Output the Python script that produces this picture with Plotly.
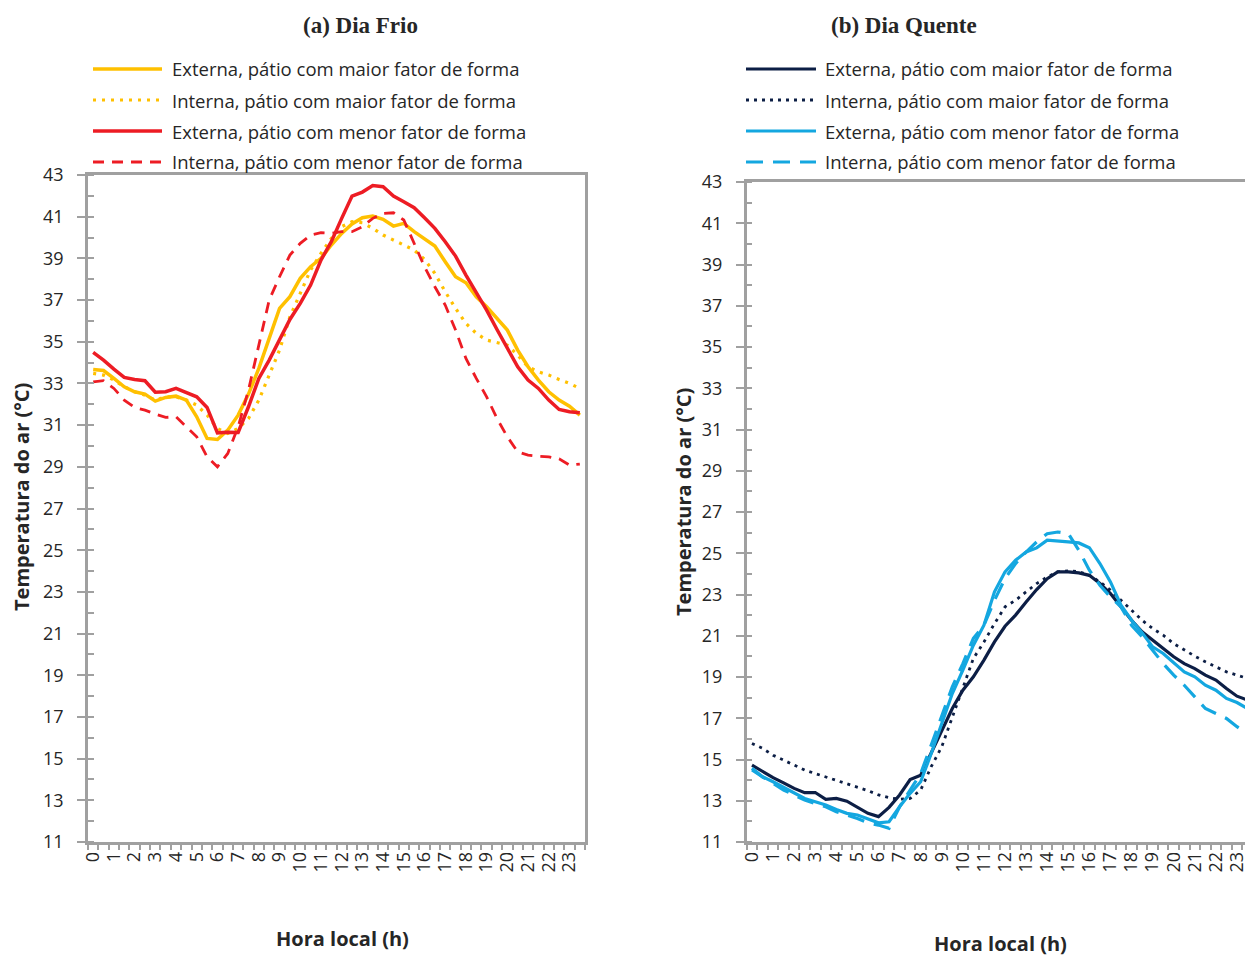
import plotly.graph_objects as go

# ---------------- data ----------------
hours = [h * 0.5 for h in range(48)]
hour_labels = [str(h) for h in range(24)]
y_ticks = list(range(11, 44, 2))

series_names = [
    "Externa, pátio com maior fator de forma",
    "Interna, pátio com maior fator de forma",
    "Externa, pátio com menor fator de forma",
    "Interna, pátio com menor fator de forma",
]

# (a) Dia Frio
frio_ext_maior = [33.67, 33.62, 33.24, 32.84, 32.60, 32.49, 32.15, 32.33, 32.39, 32.20,
                  31.40, 30.36, 30.31, 30.76, 31.48, 32.49, 33.72, 35.16, 36.60, 37.16,
                  38.04, 38.60, 39.00, 39.64, 40.20, 40.65, 40.95, 41.03, 40.87, 40.55,
                  40.68, 40.28, 39.96, 39.59, 38.84, 38.12, 37.83, 37.16, 36.68, 36.12,
                  35.56, 34.60, 33.80, 33.16, 32.60, 32.20, 31.91, 31.48]
frio_int_maior = [33.48, 33.40, 33.16, 32.84, 32.60, 32.44, 32.20, 32.36, 32.36, 32.20,
                  31.96, 31.48, 30.84, 30.60, 30.84, 31.32, 32.20, 33.40, 34.60, 36.20,
                  37.32, 38.44, 39.24, 39.96, 40.52, 40.76, 40.71, 40.44, 40.12, 39.88,
                  39.64, 39.40, 38.95, 38.28, 37.40, 36.60, 35.88, 35.40, 35.08, 34.95,
                  34.84, 34.36, 33.80, 33.56, 33.40, 33.19, 33.00, 32.76]
frio_ext_menor = [34.49, 34.12, 33.69, 33.29, 33.19, 33.13, 32.58, 32.60, 32.76, 32.58,
                  32.36, 31.85, 30.63, 30.66, 30.65, 31.88, 33.24, 34.12, 35.08, 36.07,
                  36.84, 37.72, 38.92, 39.80, 40.92, 41.99, 42.18, 42.49, 42.44, 41.99,
                  41.72, 41.43, 40.95, 40.44, 39.80, 39.11, 38.20, 37.40, 36.52, 35.59,
                  34.68, 33.80, 33.16, 32.76, 32.20, 31.75, 31.64, 31.59]
frio_int_menor = [33.08, 33.13, 32.76, 32.20, 31.85, 31.72, 31.53, 31.37, 31.40, 30.92,
                  30.44, 29.48, 29.00, 29.64, 30.92, 32.68, 34.92, 37.00, 38.12, 39.16,
                  39.72, 40.12, 40.23, 40.20, 40.28, 40.28, 40.52, 40.92, 41.16, 41.19,
                  40.84, 39.72, 38.60, 37.64, 36.76, 35.56, 34.20, 33.24, 32.36, 31.32,
                  30.44, 29.72, 29.56, 29.51, 29.48, 29.38, 29.08, 29.13]

# (b) Dia Quente
quente_ext_maior = [14.73, 14.41, 14.12, 13.87, 13.60, 13.39, 13.40, 13.07, 13.11, 12.98,
                    12.68, 12.39, 12.23, 12.68, 13.28, 14.03, 14.24, 15.29, 16.42, 17.47,
                    18.36, 19.01, 19.82, 20.70, 21.46, 22.00, 22.64, 23.24, 23.77, 24.10,
                    24.10, 24.05, 23.93, 23.53, 23.05, 22.37, 21.75, 21.19, 20.78, 20.38,
                    19.98, 19.65, 19.41, 19.09, 18.85, 18.44, 18.07, 17.88]
quente_int_maior = [15.78, 15.54, 15.21, 14.97, 14.73, 14.49, 14.32, 14.16, 14.00, 13.84,
                    13.65, 13.49, 13.28, 13.15, 13.07, 13.11, 13.52, 14.65, 15.62, 17.07,
                    18.52, 19.90, 20.70, 21.59, 22.40, 22.72, 23.13, 23.53, 23.85, 24.10,
                    24.14, 24.11, 23.93, 23.61, 23.21, 22.72, 22.24, 21.75, 21.35, 21.03,
                    20.62, 20.30, 20.01, 19.74, 19.49, 19.25, 19.09, 18.93]
quente_ext_menor = [14.49, 14.16, 13.92, 13.65, 13.36, 13.11, 12.95, 12.79, 12.58, 12.39,
                    12.31, 12.10, 11.93, 11.98, 12.71, 13.36, 13.92, 15.29, 16.75, 18.20,
                    19.33, 20.54, 21.51, 23.13, 24.10, 24.66, 25.06, 25.26, 25.63, 25.60,
                    25.55, 25.50, 25.27, 24.50, 23.61, 22.48, 21.75, 21.14, 20.46, 20.14,
                    19.69, 19.25, 19.01, 18.60, 18.36, 17.96, 17.76, 17.47]
quente_int_menor = [14.57, 14.16, 13.84, 13.52, 13.28, 13.03, 12.87, 12.71, 12.47, 12.31,
                    12.14, 11.93, 11.82, 11.66, 12.71, 13.52, 14.32, 15.70, 17.07, 18.52,
                    19.65, 20.87, 21.51, 22.72, 23.77, 24.50, 25.06, 25.55, 25.95, 26.03,
                    25.95, 25.15, 24.18, 23.45, 22.88, 22.40, 21.51, 20.95, 20.30, 19.65,
                    19.09, 18.60, 18.04, 17.47, 17.23, 16.99, 16.59, 16.26]

# ---------------- styles ----------------
ORANGE = "#FFC000"
RED = "#ED1C24"
NAVY = "#0C1E45"
CYAN = "#14A7E0"
AXIS = "#A0A0A0"
TXT = "#262626"
SANS = "Open Sans"
SERIF = "Liberation Serif"

W, H = 1245, 958


def px(x):
    return x / W


def py(y):
    return 1 - y / H


styles_a = [
    dict(color=ORANGE, width=3.5, dash="solid"),
    dict(color=ORANGE, width=3.2, dash="3px,6px"),
    dict(color=RED, width=3.5, dash="solid"),
    dict(color=RED, width=2.8, dash="11px,8px"),
]
styles_b = [
    dict(color=NAVY, width=3.2, dash="solid"),
    dict(color=NAVY, width=2.8, dash="3px,5px"),
    dict(color=CYAN, width=3.2, dash="solid"),
    dict(color=CYAN, width=3.2, dash="17px,10px"),
]
data_a = [frio_ext_maior, frio_int_maior, frio_ext_menor, frio_int_menor]
data_b = [quente_ext_maior, quente_int_maior, quente_ext_menor, quente_int_menor]

fig = go.Figure()
for name, ys, st in zip(series_names, data_a, styles_a):
    fig.add_trace(go.Scatter(x=hours, y=ys, name=name, mode="lines", line=st,
                             xaxis="x", yaxis="y", showlegend=False))
for name, ys, st in zip(series_names, data_b, styles_b):
    fig.add_trace(go.Scatter(x=hours, y=ys, name=name, mode="lines", line=st,
                             xaxis="x2", yaxis="y2", showlegend=False))

xcommon = dict(
    tickmode="array", tickvals=list(range(24)), ticktext=hour_labels,
    tickangle=-90, ticks="", showgrid=False, zeroline=False, automargin=False,
    showline=True, linecolor=AXIS, linewidth=2.5, ticklabeloverflow="allow",
    tickfont=dict(family=SANS, size=18, color=TXT),
    minor=dict(ticks="outside", tick0=-0.25, dtick=0.5, ticklen=5,
               tickcolor=AXIS, tickwidth=1.5, showgrid=False),
    fixedrange=True,
)
ycommon = dict(
    range=[11, 43], tickmode="array", tickvals=y_ticks,
    ticktext=[str(v) for v in y_ticks], automargin=False,
    ticks="outside", ticklen=8, tickcolor=AXIS, tickwidth=2,
    showgrid=False, zeroline=False, showline=True, linecolor=AXIS, linewidth=2.5,
    tickfont=dict(family=SANS, size=18, color=TXT), ticklabelstandoff=10,
    minor=dict(ticks="inside", dtick=1, tick0=11, ticklen=6,
               tickcolor=AXIS, tickwidth=1.5, showgrid=False),
    fixedrange=True,
)

fig.update_layout(
    template="none",
    width=W, height=H, margin=dict(l=0, r=0, t=0, b=0, pad=0, autoexpand=False),
    paper_bgcolor="white", plot_bgcolor="white", showlegend=False,
    xaxis=dict(xcommon, domain=[px(88), px(585)], range=[-0.25, 23.75],
               anchor="y", mirror=True),
    yaxis=dict(ycommon, domain=[py(842), py(175)], anchor="x", mirror=True),
    xaxis2=dict(xcommon, domain=[px(746.7), 1.0], range=[-0.25, 23.38],
                anchor="y2", mirror=True),
    yaxis2=dict(ycommon, domain=[py(842), py(182)], anchor="x2", mirror=False),
)

annotations = []
shapes = []

# panel titles
for text, x in [("(a) Dia Frio", 361), ("(b) Dia Quente", 904)]:
    annotations.append(dict(text=f"<b>{text}</b>", x=px(x), y=py(25), xref="paper", yref="paper",
                            showarrow=False, xanchor="center", yanchor="middle",
                            font=dict(family=SERIF, size=23, color=TXT)))
# axis titles
for x, y in [(343, 938), (1000, 943)]:
    annotations.append(dict(text="<b>Hora local (h)</b>", x=px(x), y=py(y), xref="paper", yref="paper",
                            showarrow=False, xanchor="center", yanchor="middle",
                            font=dict(family=SANS, size=20, color=TXT)))
for x, y in [(22, 497), (683, 502)]:
    annotations.append(dict(text="<b>Temperatura do ar (°C)</b>", x=px(x), y=py(y),
                            xref="paper", yref="paper", textangle=-90,
                            showarrow=False, xanchor="center", yanchor="middle",
                            font=dict(family=SANS, size=20, color=TXT)))

# legends (manual, Excel-like wide samples)
rows = [69, 100, 131, 162]
for (x0, x1, xt), sts in [((93, 162, 170), styles_a), ((746, 816, 823), styles_b)]:
    for name, yrow, st in zip(series_names, rows, sts):
        shapes.append(dict(type="line", xref="paper", yref="paper",
                           x0=px(x0), x1=px(x1), y0=py(yrow), y1=py(yrow),
                           line=dict(color=st["color"], width=st["width"], dash=st["dash"])))
        annotations.append(dict(text=name, x=px(xt), y=py(yrow), xref="paper", yref="paper",
                                showarrow=False, xanchor="left", yanchor="middle",
                                font=dict(family=SANS, size=18.5, color=TXT)))

fig.update_layout(annotations=annotations, shapes=shapes)
fig.write_html(
    "out.html",
    config={"displayModeBar": False},
    post_script="document.body.style.margin='0';"
                "document.documentElement.style.overflow='hidden';"
                "document.body.style.overflow='hidden';",
)
